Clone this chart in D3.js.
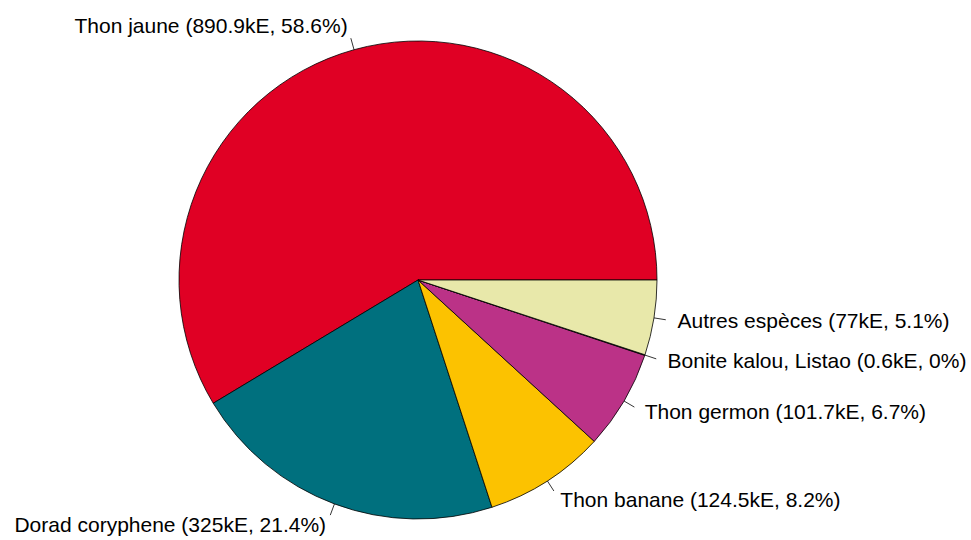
<!DOCTYPE html>
<html>
<head>
<meta charset="utf-8">
<script src="https://cdn.jsdelivr.net/npm/d3@7"></script>
<style>
  body { margin: 0; background: #fff; }
  text { font-family: "Liberation Sans", Arial, sans-serif; font-size: 21px; fill: #000; }
</style>
</head>
<body>
<script>
var width = 971;
var height = 540;

// data
var species = ["Thon jaune", "Dorad coryphene", "Thon banane", "Thon germon", "Bonite kalou, Listao", "Autres espèces"];
var values = [890.9, 325, 124.5, 101.7, 0.6, 77];
var labelValues = ["890.9kE", "325kE", "124.5kE", "101.7kE", "0.6kE", "77kE"];
var percents = ["58.6%", "21.4%", "8.2%", "6.7%", "0%", "5.1%"];
var colors = ["#E00024", "#00707E", "#FCC200", "#BB3287", "#7E7E7E", "#E8E8AA"];

var cx = 418, cy = 280, r = 239;

var svg = d3.select("body")
    .append("svg")
    .attr("width", width)
    .attr("height", height);

var g = svg.append("g")
    .attr("transform", "translate(" + cx + "," + cy + ")");

// R pie: start at 3 o'clock, go counterclockwise
var pie = d3.pie()
    .sort(null)
    .startAngle(Math.PI / 2)
    .endAngle(Math.PI / 2 - 2 * Math.PI)
    .value(function(d) { return d; });

var arcs = pie(values);

var arc = d3.arc()
    .innerRadius(0)
    .outerRadius(r);

g.selectAll("path.slice")
    .data(arcs)
    .enter()
    .append("path")
    .attr("class", "slice")
    .attr("d", arc)
    .attr("fill", function(d, i) { return colors[i]; })
    .attr("stroke", "#000")
    .attr("stroke-width", 0.8);

function mid(d) { return (d.startAngle + d.endAngle) / 2; }

// tick lines from r to 1.05r
g.selectAll("line.tick")
    .data(arcs)
    .enter()
    .append("line")
    .attr("x1", function(d) { return Math.sin(mid(d)) * r; })
    .attr("y1", function(d) { return -Math.cos(mid(d)) * r; })
    .attr("x2", function(d) { return Math.sin(mid(d)) * r * 1.05; })
    .attr("y2", function(d) { return -Math.cos(mid(d)) * r * 1.05; })
    .attr("stroke", "#000")
    .attr("stroke-width", 0.8);

// labels at 1.1r
g.selectAll("text.lab")
    .data(arcs)
    .enter()
    .append("text")
    .attr("x", function(d) { return Math.sin(mid(d)) * r * 1.1; })
    .attr("y", function(d) { return -Math.cos(mid(d)) * r * 1.1; })
    .attr("dy", "0.28em")
    .attr("text-anchor", function(d) { return Math.sin(mid(d)) < 0 ? "end" : "start"; })
    .text(function(d, i) { return species[i] + " (" + labelValues[i] + ", " + percents[i] + ")"; });
</script>
</body>
</html>
